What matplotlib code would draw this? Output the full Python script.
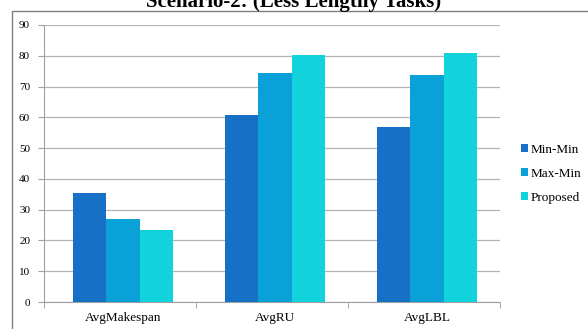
import numpy as np
import matplotlib.pyplot as plt
from matplotlib.patches import Rectangle

# Data
categories = ['AvgMakespan', 'AvgRU', 'AvgLBL']
series = ['Min-Min', 'Max-Min', 'Proposed']
min_min = [35.5, 60.8, 57.0]
max_min = [26.9, 74.4, 73.6]
proposed = [23.4, 80.2, 81.0]
colors = ['#1570C6', '#0AA0D8', '#12D2DC']

plt.rcParams['font.family'] = ['Liberation Serif', 'DejaVu Serif']

fig = plt.figure(figsize=(5.88, 3.29), dpi=100)
W, H = 588, 329

# Outer frame around chart area
fig.patches.append(Rectangle((12 / W, -0.05), 1.2, 1 - 11 / H + 0.05,
                             transform=fig.transFigure, fill=False,
                             edgecolor='#808080', linewidth=1.0))

ax = fig.add_axes([44 / W, 1 - 302 / H, (500 - 44) / W, (302 - 25) / H])

x = np.arange(len(categories))
bw = 0.22
for i, (vals, name) in enumerate(zip([min_min, max_min, proposed], series)):
    ax.bar(x + (i - 1) * bw, vals, bw, color=colors[i], label=name, zorder=3)

ax.set_xlim(-0.52, 2.48)
ax.set_ylim(0, 90)
ax.set_yticks(np.arange(0, 91, 10))
ax.yaxis.grid(True, color='#B4B4B4', linewidth=0.9, zorder=0)
ax.tick_params(axis='y', length=4, color='#A0A0A0', labelsize=8, pad=6)

ax.set_xticks(x)
ax.set_xticklabels(categories, fontsize=9.5)
ax.set_xticks([-0.52, 0.48, 1.48, 2.48], minor=True)
ax.tick_params(axis='x', which='major', length=0, pad=7)
ax.tick_params(axis='x', which='minor', length=4, color='#A0A0A0')

for s in ['top', 'right']:
    ax.spines[s].set_visible(False)
for s in ['left', 'bottom']:
    ax.spines[s].set_color('#A0A0A0')

ax.legend(loc='center left', bbox_to_anchor=(509 / W, 1 - 174 / H),
          bbox_transform=fig.transFigure, frameon=False, fontsize=9.5,
          handlelength=0.55, handleheight=0.55, handletextpad=0.15,
          labelspacing=0.9)

fig.text(0.5, 1 - 7 / H, 'Scenario-2: (Less Lengthy Tasks)', ha='center',
         va='baseline', fontsize=15, fontweight='bold')

fig.savefig('out.png', dpi=100)
